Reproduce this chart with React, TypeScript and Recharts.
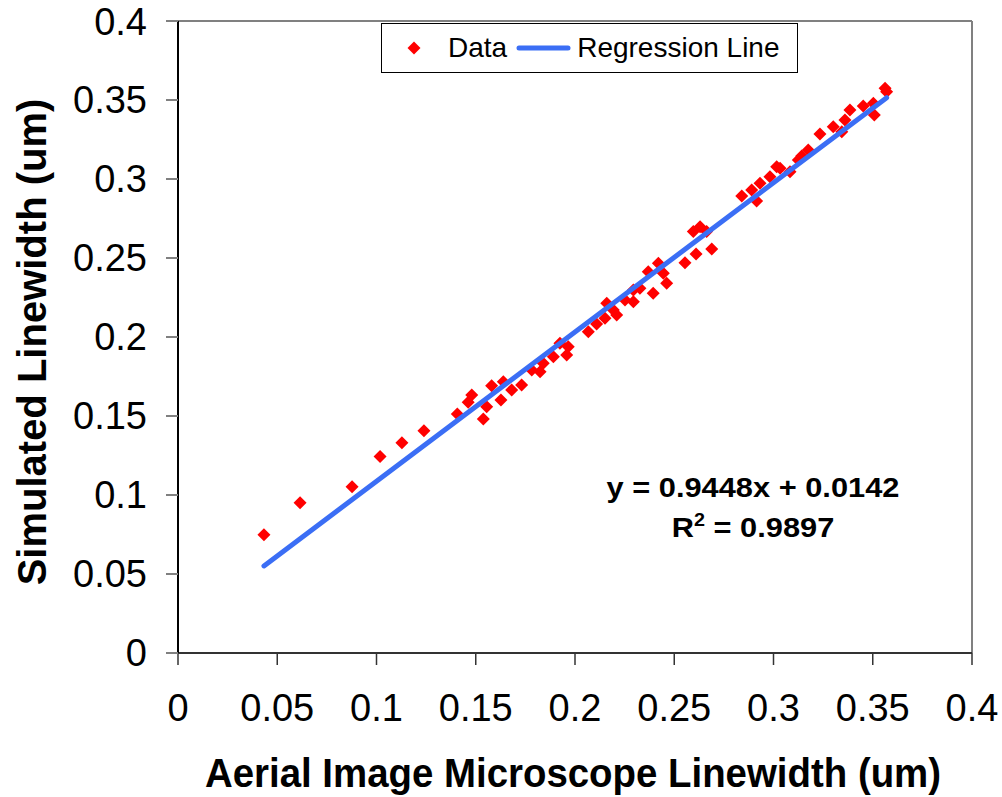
import { ComposedChart, Scatter, XAxis, YAxis, ReferenceLine } from "recharts"

const aerialLinewidth = [
  0.0433, 0.0615, 0.0877, 0.1018, 0.1128, 0.1239, 0.1407, 0.1462, 0.148, 0.1538,
  0.1555, 0.158, 0.1627, 0.1639, 0.1681, 0.1731, 0.1782, 0.1824, 0.184, 0.1891,
  0.1924, 0.1958, 0.1966, 0.2067, 0.2109, 0.2151, 0.216, 0.2193, 0.221, 0.2252,
  0.2294, 0.2294, 0.2327, 0.2369, 0.2394, 0.242, 0.2445, 0.2462, 0.2554, 0.2596,
  0.261, 0.263, 0.2663, 0.2689, 0.284, 0.289, 0.2915, 0.2932, 0.2982, 0.3016,
  0.3033, 0.3083, 0.3125, 0.3142, 0.3175, 0.3234, 0.3301, 0.3344, 0.336, 0.3385,
  0.3452, 0.3503, 0.3508, 0.3562, 0.357,
]
const simulatedLinewidth = [
  0.0749, 0.0951, 0.1053, 0.1243, 0.1331, 0.1407, 0.1513, 0.1587, 0.1633, 0.1481,
  0.1559, 0.1692, 0.1601, 0.1717, 0.1665, 0.1696, 0.1791, 0.178, 0.1834, 0.1875,
  0.196, 0.1886, 0.1939, 0.2034, 0.2082, 0.2118, 0.2213, 0.2171, 0.2139, 0.2234,
  0.2297, 0.2223, 0.2308, 0.2413, 0.2277, 0.2466, 0.2403, 0.234, 0.247, 0.2667,
  0.2525, 0.2698, 0.2667, 0.2557, 0.2892, 0.293, 0.2861, 0.2973, 0.3015, 0.3078,
  0.3068, 0.3046, 0.312, 0.3146, 0.3184, 0.3285, 0.3331, 0.3299, 0.3373, 0.3437,
  0.3462, 0.3479, 0.3405, 0.3574, 0.3553,
]
const axisTicks = [0, 0.05, 0.1, 0.15, 0.2, 0.25, 0.3, 0.35, 0.4]

// trendline from the equation shown on the chart
const slope = 0.9448
const intercept = 0.0142
const lineRange = [0.0433, 0.357]

const data = aerialLinewidth.map((x, i) => ({ x, y: simulatedLinewidth[i] }))
const regression = lineRange.map((x) => ({ x, y: slope * x + intercept }))

const font = "'Liberation Sans', Arial, sans-serif"
const red = "#ff0000"
const blue = "#3b6ef5"

function Diamond(props: any) {
  const { cx, cy } = props
  const r = 6.5
  return (
    <polygon
      points={`${cx},${cy - r} ${cx + r},${cy} ${cx},${cy + r} ${cx - r},${cy}`}
      fill={red}
    />
  )
}

const fmt = (v: number) => String(+v.toFixed(2))

export default function App() {
  return (
    <div style={{ position: "absolute", left: 0, top: 0, width: 1002, height: 797, background: "#fff", fontFamily: font }}>
      <ComposedChart
        width={1002}
        height={797}
        margin={{ top: 21, right: 30, left: 78, bottom: 84 }}
      >
        <XAxis
          type="number"
          dataKey="x"
          domain={[0, 0.4]}
          ticks={axisTicks}
          tickFormatter={fmt}
          height={60}
          tickSize={12}
          tickMargin={29}
          axisLine={{ stroke: "#333", strokeWidth: 2 }}
          tickLine={{ stroke: "#333", strokeWidth: 1.5 }}
          tick={{ fill: "#000", fontSize: 38, fontFamily: font }}
          allowDataOverflow
        />
        <YAxis
          type="number"
          dataKey="y"
          domain={[0, 0.4]}
          ticks={axisTicks}
          tickFormatter={fmt}
          width={100}
          tickSize={12}
          tickMargin={19}
          axisLine={{ stroke: "#000", strokeWidth: 2 }}
          tickLine={{ stroke: "#808080", strokeWidth: 2 }}
          tick={{ fill: "#000", fontSize: 38, fontFamily: font }}
          allowDataOverflow
        />
        <ReferenceLine y={0.4} stroke="#808080" strokeWidth={2} />
        <ReferenceLine x={0.4} stroke="#808080" strokeWidth={2} />
        <Scatter name="Data" data={data} shape={Diamond} isAnimationActive={false} />
        <Scatter
          name="Regression Line"
          data={regression}
          line={{ stroke: blue, strokeWidth: 5, strokeLinecap: "round" }}
          shape={() => <g />}
          isAnimationActive={false}
        />
      </ComposedChart>

      {/* legend */}
      <div
        style={{
          position: "absolute", left: 381, top: 23, width: 415, height: 48,
          border: "1px solid #000", display: "flex", alignItems: "center", fontSize: 28,
        }}
      >
        <svg width={14} height={14} style={{ marginLeft: 25 }}>
          <polygon points="7,0.5 13.5,7 7,13.5 0.5,7" fill={red} />
        </svg>
        <span style={{ marginLeft: 27 }}>Data</span>
        <svg width={55} height={8} style={{ marginLeft: 9 }}>
          <line x1={3} y1={4} x2={52} y2={4} stroke={blue} strokeWidth={5} strokeLinecap="round" />
        </svg>
        <span style={{ marginLeft: 6 }}>Regression Line</span>
      </div>

      {/* equation */}
      <div
        style={{
          position: "absolute", left: 553, top: 468, width: 400, textAlign: "center",
          fontSize: 28, fontWeight: "bold", lineHeight: "40px", transform: "scaleX(1.1)",
        }}
      >
        <div>y = 0.9448x + 0.0142</div>
        <div>
          R<sup style={{ fontSize: 18, verticalAlign: "11px", lineHeight: 0 }}>2</sup> = 0.9897
        </div>
      </div>

      {/* axis titles */}
      <div
        style={{
          position: "absolute", left: 73, top: 750, width: 1000, textAlign: "center",
          fontSize: 40, fontWeight: "bold", lineHeight: "46px", transform: "scaleX(0.96)",
        }}
      >
        Aerial Image Microscope Linewidth (um)
      </div>
      <div style={{ position: "absolute", left: 32, top: 342, width: 0, height: 0 }}>
        <div
          style={{
            position: "absolute", left: -300, top: -23, width: 600, textAlign: "center",
            fontSize: 40, fontWeight: "bold", transform: "rotate(-90deg)", lineHeight: "46px",
          }}
        >
          Simulated Linewidth (um)
        </div>
      </div>
    </div>
  )
}
